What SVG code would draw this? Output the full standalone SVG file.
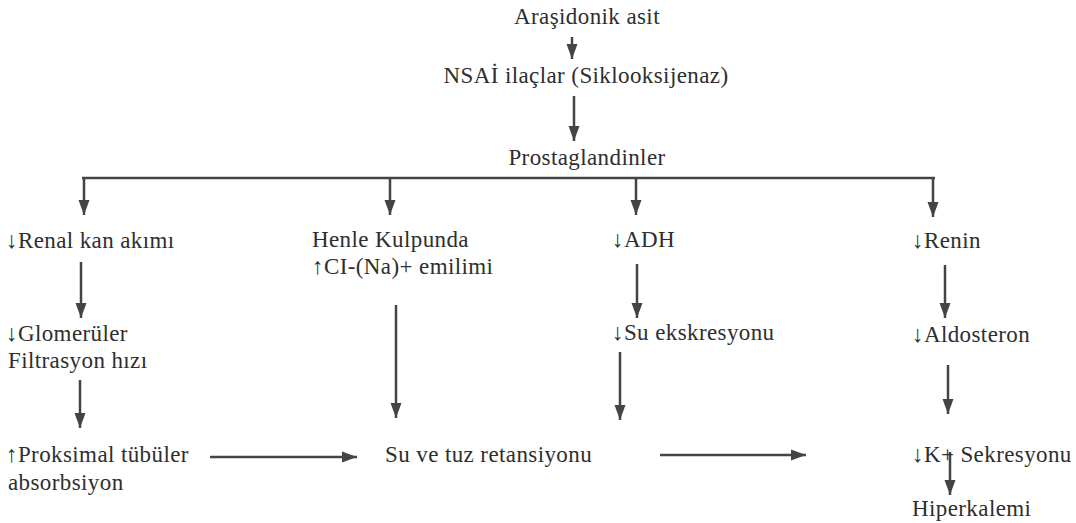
<svg xmlns="http://www.w3.org/2000/svg" width="1076" height="523" viewBox="0 0 1076 523">
<style>
text{font-family:'Liberation Serif','Times New Roman',serif;font-size:23px;letter-spacing:0.4px;fill:#2e2e2e}
.c{text-anchor:middle}
.ln{stroke:#444;stroke-width:2.5;fill:none}
.ar{stroke:#444;stroke-width:2.5;fill:none;marker-end:url(#ah)}
</style>
<defs>
<marker id="ah" markerUnits="userSpaceOnUse" markerWidth="16" markerHeight="12" refX="15" refY="6" orient="auto">
<path d="M0,0.5 L15,6 L0,11.5 z" fill="#444"/>
</marker>
</defs>
<rect width="1076" height="523" fill="#fff"/>
<g id="connectors">
<line class="ar" x1="572" y1="37" x2="572" y2="59"/>
<line class="ar" x1="574" y1="96" x2="574" y2="141"/>
<line class="ln" x1="82" y1="178" x2="935" y2="178"/>
<line class="ar" x1="84" y1="177" x2="84" y2="215"/>
<line class="ar" x1="390" y1="177" x2="390" y2="215"/>
<line class="ar" x1="636" y1="177" x2="636" y2="215"/>
<line class="ar" x1="933" y1="177" x2="933" y2="217"/>
<line class="ar" x1="81" y1="262" x2="81" y2="318"/>
<line class="ar" x1="637" y1="264" x2="637" y2="318"/>
<line class="ar" x1="945" y1="265" x2="945" y2="318"/>
<line class="ar" x1="80" y1="380" x2="80" y2="428"/>
<line class="ar" x1="396" y1="305" x2="396" y2="418"/>
<line class="ar" x1="620" y1="352" x2="620" y2="420"/>
<line class="ar" x1="948" y1="365" x2="948" y2="414"/>
<line class="ar" x1="210" y1="457" x2="357" y2="457"/>
<line class="ar" x1="660" y1="455" x2="806" y2="455"/>
<line class="ar" x1="950" y1="452" x2="950" y2="495"/>
</g>
<g id="n-arasidonik"><text class="c" x="587" y="24">Araşidonik asit</text></g>
<g id="n-nsai"><text class="c" x="586" y="83">NSAİ ilaçlar (Siklooksijenaz)</text></g>
<g id="n-prostaglandinler"><text class="c" x="587" y="165">Prostaglandinler</text></g>
<g id="n-renal"><text x="6" y="248">↓Renal kan akımı</text></g>
<g id="n-henle"><text x="312" y="247">Henle Kulpunda</text><text x="312" y="274">↑CI-(Na)+ emilimi</text></g>
<g id="n-adh"><text x="612" y="247">↓ADH</text></g>
<g id="n-renin"><text x="912" y="248">↓Renin</text></g>
<g id="n-glomeruler"><text x="6" y="341">↓Glomerüler</text><text x="8" y="368">Filtrasyon hızı</text></g>
<g id="n-su-ekskresyonu"><text x="612" y="340">↓Su ekskresyonu</text></g>
<g id="n-aldosteron"><text x="912" y="342">↓Aldosteron</text></g>
<g id="n-proksimal"><text x="6" y="462">↑Proksimal tübüler</text><text x="8" y="490">absorbsiyon</text></g>
<g id="n-su-tuz"><text x="385" y="462">Su ve tuz retansiyonu</text></g>
<g id="n-k"><text x="912" y="462">↓K+ Sekresyonu</text></g>
<g id="n-hiperkalemi"><text x="912" y="516">Hiperkalemi</text></g>
</svg>
